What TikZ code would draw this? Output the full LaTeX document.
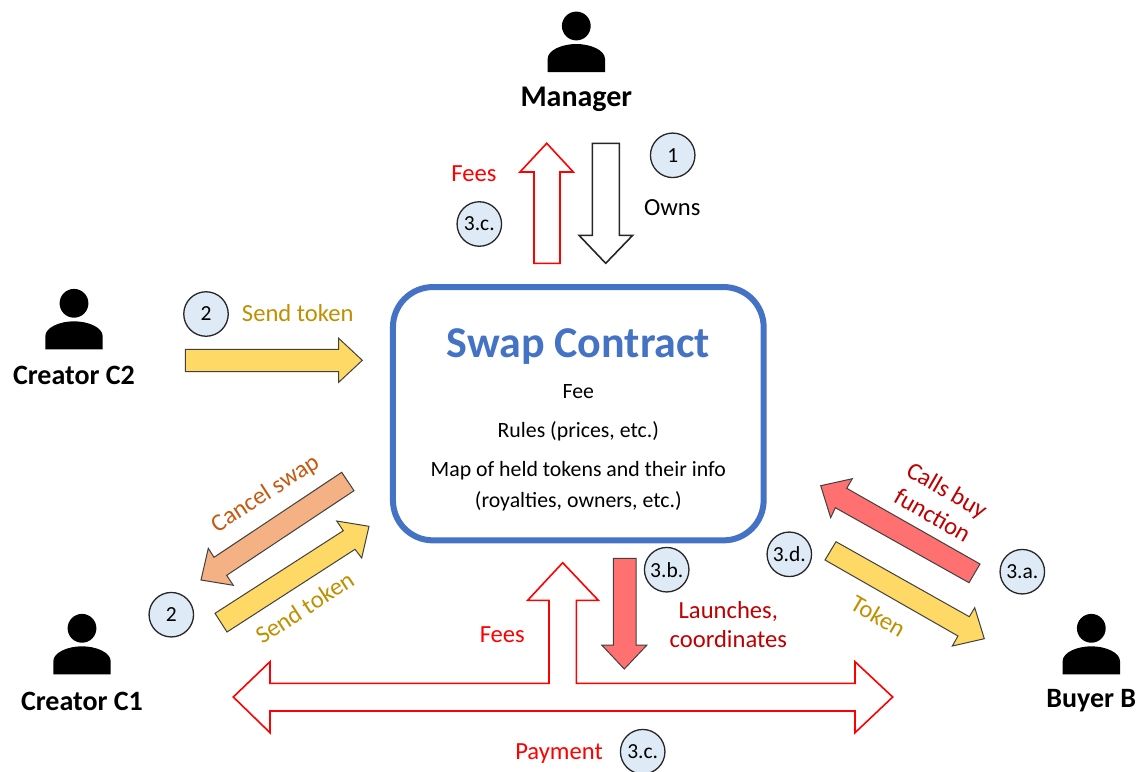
\documentclass[tikz,border=0pt]{standalone}
\usepackage{fontspec}
\setmainfont{Carlito}
\definecolor{cblue}{HTML}{4472C4}
\definecolor{cgold}{HTML}{BF9000}
\definecolor{cdred}{HTML}{C00000}
\definecolor{corange}{HTML}{C55A11}
\definecolor{cyellow}{HTML}{FFD966}
\definecolor{cpeach}{HTML}{F4B183}
\definecolor{csalmon}{HTML}{FF7171}
\definecolor{ccircle}{HTML}{DEEBF7}
\tikzset{
  x=1pt,y=-1pt,
  every node/.style={inner sep=0pt,outer sep=0pt,align=center,font=\fontsize{24.6}{29}\selectfont},
  actor/.style={font=\fontsize{28}{33}\selectfont\bfseries},
  bodytext/.style={font=\fontsize{21.8}{30.7}\selectfont},
  stepcircle/.style={circle,draw=black!85,line width=1.3pt,fill=ccircle,minimum size=44.5pt,font=\fontsize{21.5}{25}\selectfont},
  blockdark/.style={draw=black!75,line width=1pt,line join=miter},
  blockred/.style={draw=red,fill=white,line width=1.6pt,line join=miter},
  blockblack/.style={draw=black!85,fill=white,line width=1.6pt,line join=miter},
}
\newcommand{\personicon}[2]{%
  \fill[black] (#1,#2) circle[radius=14.4];
  \fill[black] (#1-28.7,#2+46) -- (#1-28.7,#2+33)
    .. controls (#1-28.7,#2+24) and (#1-14,#2+18) .. (#1,#2+18)
    .. controls (#1+14,#2+18) and (#1+28.7,#2+24) .. (#1+28.7,#2+33)
    -- (#1+28.7,#2+46) -- cycle;}
\begin{document}
\begin{tikzpicture}
\useasboundingbox (0,0) rectangle (1142,771);
\fill[white] (0,0) rectangle (1142,771);

% contract
\node[draw=cblue,line width=6pt,rounded corners=40pt,fill=white,minimum width=370.7pt,minimum height=253.3pt] (contract) at (578.3,413.7) {};
\node[text=cblue,font=\fontsize{44}{52}\selectfont\bfseries] (title) at (578.3,347) {Swap Contract};
\node[bodytext] (fee) at (578.3,392) {Fee};
\node[bodytext] (rules) at (578.3,431.5) {Rules (prices, etc.)};
\node[bodytext] (map) at (578.3,486) {Map of held tokens and their info\\(royalties, owners, etc.)};

% actors
\personicon{576.3}{26}
\personicon{74}{303.3}
\personicon{82}{628.3}
\personicon{1091.3}{628.3}
\node[actor,font=\fontsize{30}{36}\selectfont\bfseries] (manager) at (576.3,99) {Manager};
\node[actor] (c2) at (74,375.5) {Creator C2};
\node[actor] (c1) at (82,701.5) {Creator C1};
\node[actor] (buyer) at (1091.3,701) {Buyer B};

% top arrows
\draw[blockred] (546.7,143.3) -- (573.3,172) -- (560,172) -- (560,263.3) -- (534,263.3) -- (534,172) -- (520,172) -- cycle;
\draw[blockblack] (592.3,143.3) -- (619.3,143.3) -- (619.3,235.3) -- (632.7,235.3) -- (605.7,263.3) -- (579,235.3) -- (592.3,235.3) -- cycle;

% creator C2 arrow
\draw[blockdark,fill=cyellow] (185.3,349.3) -- (338.7,349.3) -- (338.7,338.3) -- (362.3,360.3) -- (338.7,382.3) -- (338.7,371.7) -- (185.3,371.7) -- cycle;

% creator C1 arrows
\draw[blockdark,fill=cpeach] (341.7,472.3) -- (354,490.7) -- (226.7,575.3) -- (233.3,585.3) -- (201,580) -- (208.3,548.3) -- (214,557.3) -- cycle;
\draw[blockdark,fill=cyellow] (215,613.3) -- (343.3,530.7) -- (336.7,521) -- (369,526.3) -- (361.7,558) -- (355,549.3) -- (227,632) -- cycle;

% buyer arrows
\draw[blockdark,fill=csalmon] (980,564) -- (969,582.7) -- (835.3,507.7) -- (830.7,517.7) -- (820.7,485.7) -- (852.3,478.7) -- (846.7,488.3) -- cycle;
\draw[blockdark,fill=cyellow] (836,541.7) -- (825,560) -- (958,636) -- (952.3,646) -- (984.3,638.7) -- (974.7,607.7) -- (969.3,616.7) -- cycle;

% launch arrow
\draw[blockdark,fill=csalmon] (613.3,558.3) -- (636,558.3) -- (636,645) -- (647,645) -- (624.3,669) -- (601.7,645) -- (613.3,645) -- cycle;

% payment arrow
\draw[blockred] (562.7,562.7) -- (598.3,600.3) -- (576.3,600.3) -- (576.3,683.3) -- (855,683.3) -- (855,661.7) -- (892.7,697) -- (855,732.7) -- (855,711) -- (270,711) -- (270,732.7) -- (233.3,697) -- (270,661.7) -- (270,683.3) -- (549,683.3) -- (549,600.3) -- (527.7,600.3) -- cycle;

% labels
\node[text=red] (lfees1) at (474,173.5) {Fees};
\node (lowns) at (672.3,208) {Owns};
\node[text=cgold] (lsend2) at (297.7,313.5) {Send token};
\node[text=corange,rotate=33] (lcancel) at (265.5,494) {Cancel swap};
\node[text=cgold,rotate=33] (lsend1) at (304.5,607.5) {Send token};
\node[text=cdred,rotate=-30] (lcalls) at (940,502.5) {Calls buy\\function};
\node[text=cgold,rotate=-30] (ltoken) at (878.3,616) {Token};
\node[text=cdred] (llaunch) at (728.3,624.5) {Launches,\\coordinates};
\node[text=red] (lfees2) at (502.3,635) {Fees};
\node[text=red] (lpay) at (559,754) {Payment};

% step circles
\node[stepcircle] (s1) at (672.7,155.3) {1};
\node[stepcircle] (s3c1) at (479.3,224) {3.c.};
\node[stepcircle] (s2a) at (206,314) {2};
\node[stepcircle] (s2b) at (171.3,614.7) {2};
\node[stepcircle] (s3b) at (666.7,569.7) {3.b.};
\node[stepcircle] (s3d) at (789.3,554.3) {3.d.};
\node[stepcircle] (s3a) at (1022.3,571.7) {3.a.};
\node[stepcircle] (s3c2) at (642.7,751.7) {3.c.};
\end{tikzpicture}
\end{document}
